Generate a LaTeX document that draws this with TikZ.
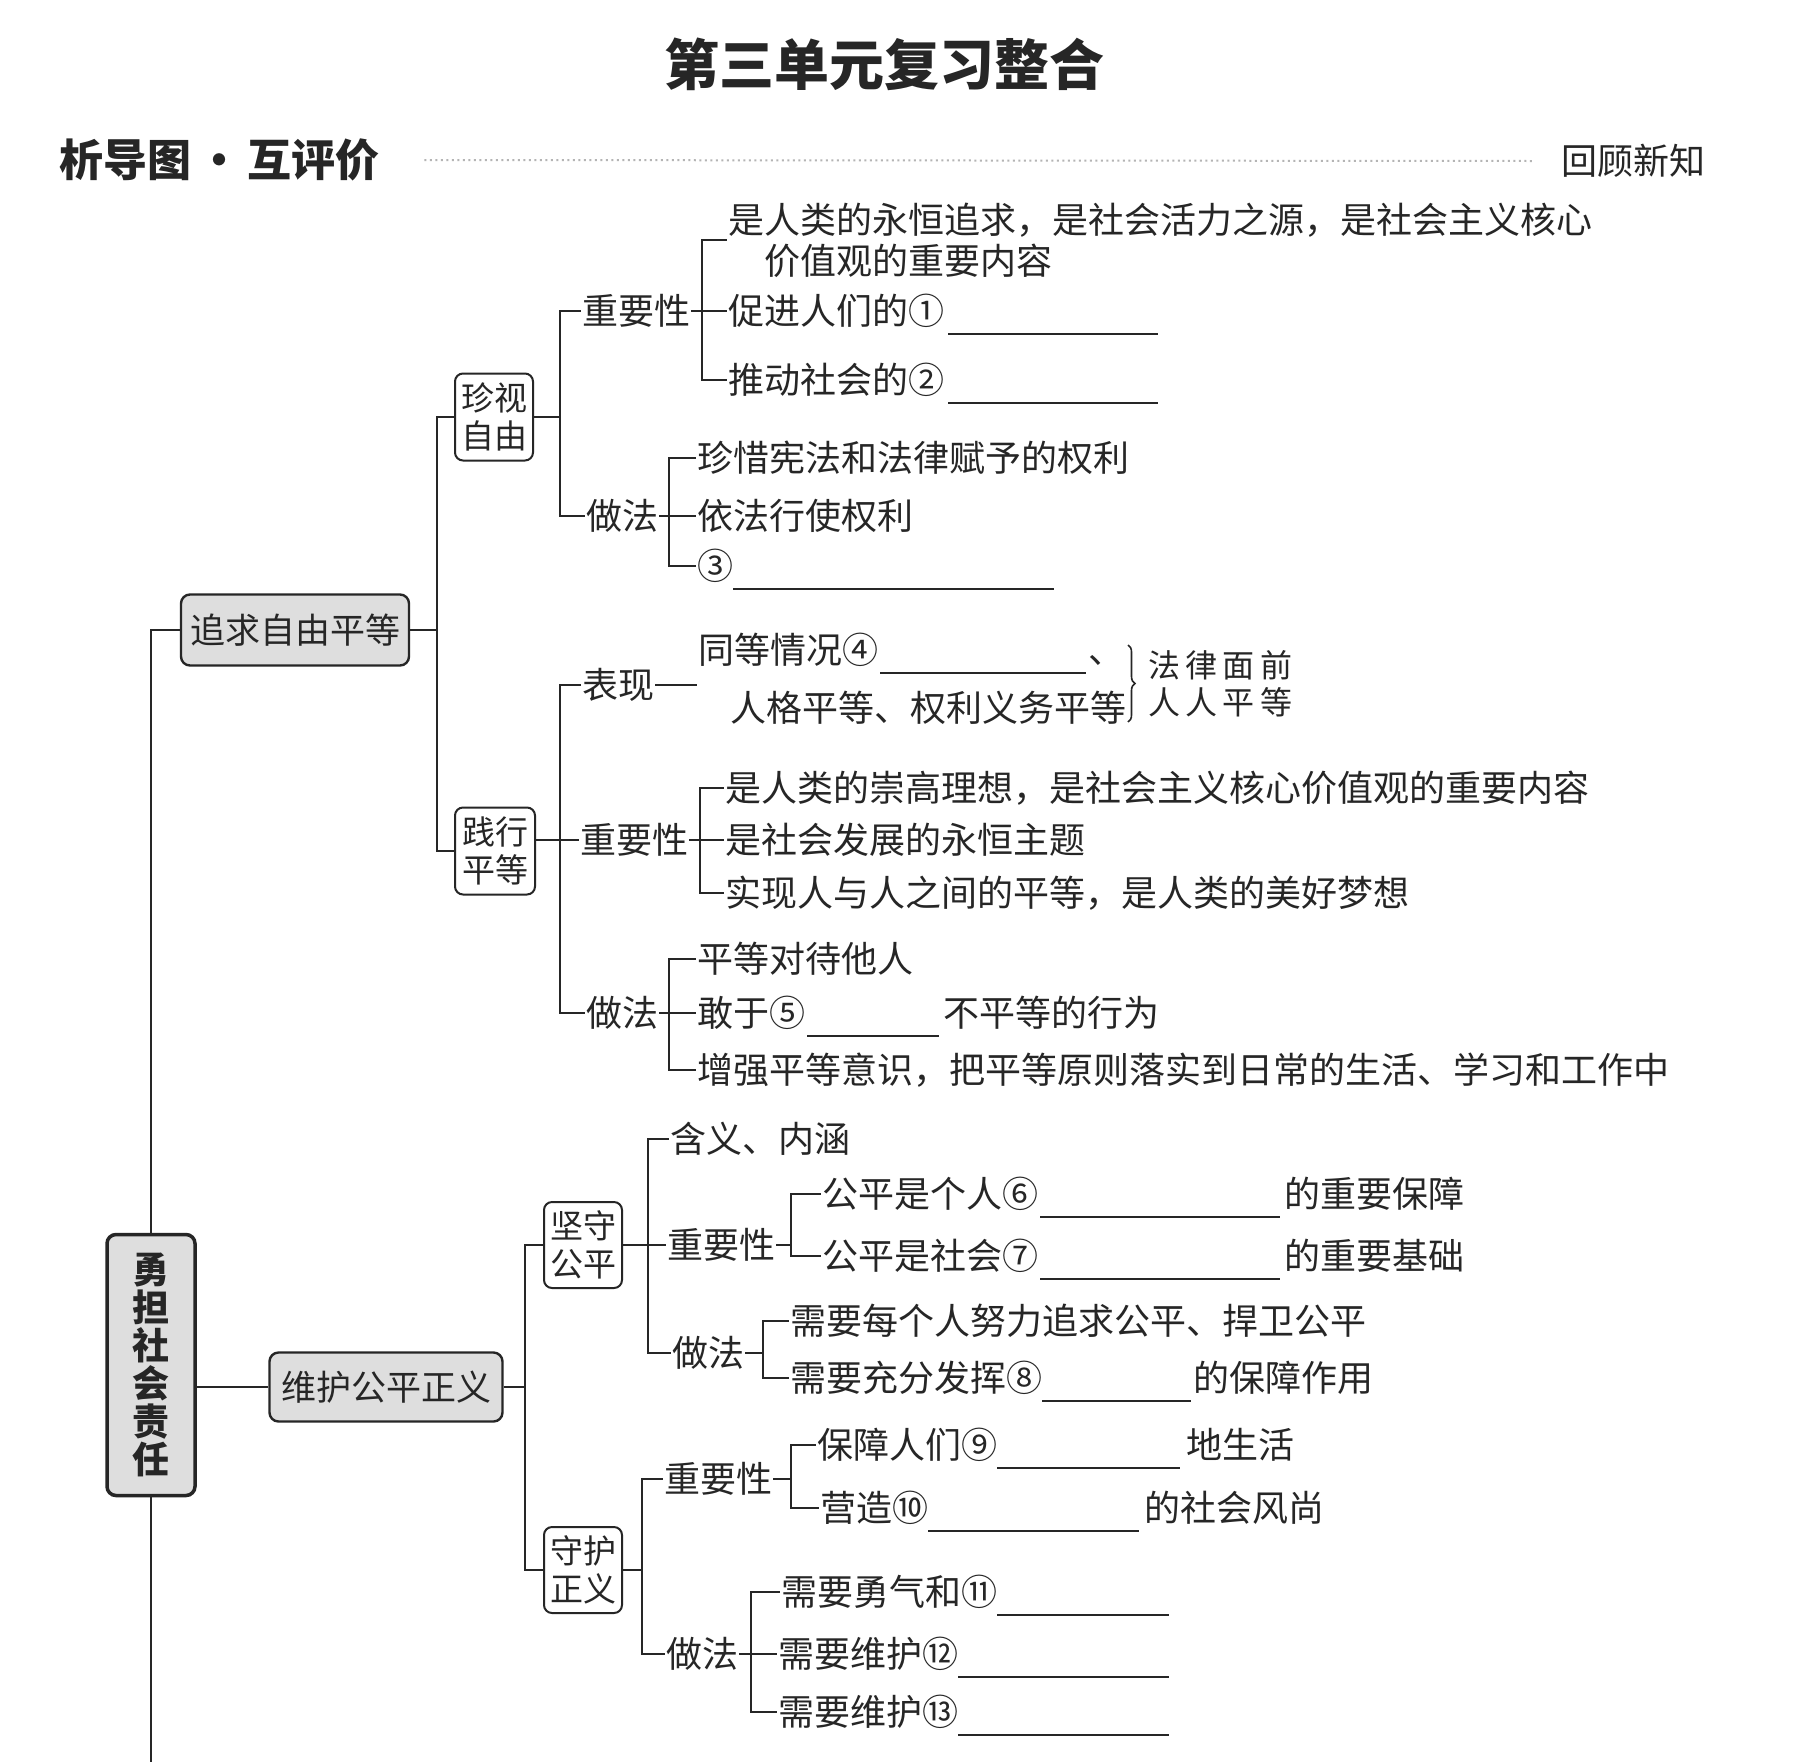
\documentclass[tikz,border=0pt]{standalone}
\usepackage{fontspec}
\setmainfont{Noto Sans CJK SC}
\usetikzlibrary{decorations.pathreplacing}
\definecolor{ink}{HTML}{262626}
\definecolor{boxgray}{HTML}{DEDEDE}
\definecolor{dotgray}{HTML}{B4B4B4}
\newcommand\blank[1]{\smash{\rule[-10pt]{#1pt}{1.6pt}}}
\begin{document}
\begin{tikzpicture}[x=1pt,y=-1pt,
  every node/.style={text=ink},
  txt/.style={anchor=west, inner sep=1pt, font=\fontsize{36pt}{41pt}\selectfont},
  conn/.style={draw=ink, line width=1.8pt},
  gbox/.style={draw=ink, line width=2.4pt, rounded corners=9pt, fill=boxgray, inner sep=0pt, font=\fontsize{35pt}{40pt}\selectfont},
  wbox/.style={draw=ink, line width=2pt, rounded corners=8pt, fill=white, inner sep=0pt, align=center, minimum width=78pt, minimum height=87pt, font=\fontsize{33pt}{38pt}\selectfont},
]
\fill[white] (0,0) rectangle (1798,1762);
\useasboundingbox (0,0) rectangle (1798,1762);

% header
\node[font=\bfseries\fontsize{55pt}{58pt}\selectfont] (title) at (884,64) {第三单元复习整合};
\node[anchor=west, inner sep=1pt, font=\bfseries\fontsize{44pt}{46pt}\selectfont] (hd) at (58,160) {析导图\hspace{6pt}·\hspace{6pt}互评价};
\node[anchor=west, inner sep=1pt, font=\fontsize{36pt}{38pt}\selectfont] (rg) at (1560,161) {回顾新知};
\draw[dotgray, line width=2pt, dash pattern=on 2pt off 3.5pt] ([xshift=44pt]hd.east) -- ([xshift=-28pt]rg.west);

% main boxes
\node[gbox, line width=3.5pt, align=center, minimum width=88pt, minimum height=261pt, font=\bfseries\fontsize{37pt}{38pt}\selectfont] (root) at (151,1365) {勇\\担\\社\\会\\责\\任};
\node[gbox, minimum width=228pt, minimum height=71pt] (zq) at (295,630) {追求自由平等};
\node[gbox, minimum width=233pt, minimum height=69pt] (wh) at (386,1387) {维护公平正义};
\coordinate (bot) at (151,1762);
\draw[conn] (root.north) |- (zq.west);
\draw[conn] (root.south) -- (bot);
\draw[conn] (root.east |- wh.west) -- (wh.west);

% second-level boxes
\node[wbox] (zs) at (494,417) {珍视\\自由};
\node[wbox, minimum width=80pt] (jx) at (495,851) {践行\\平等};
\node[wbox, minimum height=86pt] (js) at (583,1245) {坚守\\公平};
\node[wbox, minimum height=86pt] (jh) at (583,1570) {守护\\正义};

\coordinate (J1) at (437,630);
\draw[conn] (zq.east) -- (J1);
\draw[conn] (J1) |- (zs.west);
\draw[conn] (J1) |- (jx.west);

% ---------- 珍视自由 ----------
\node[txt] (zy1) at (581,311) {重要性};
\node[txt] (zf1) at (585,516) {做法};
\coordinate (J2) at (560,417);
\draw[conn] (zs.east) -- (J2);
\draw[conn] (J2) |- (zy1.west);
\draw[conn] (J2) |- (zf1.west);

\node[txt, align=left] (a1) at (727,240) {是人类的永恒追求，是社会活力之源，是社会主义核心\\\hspace*{1em}价值观的重要内容};
\node[txt] (a2) at (727,311) {促进人们的①\hspace{4pt}\blank{210}};
\node[txt] (a3) at (727,380) {推动社会的②\hspace{4pt}\blank{210}};
\coordinate (J3) at (702,311);
\draw[conn] (zy1.east) -- (J3);
\draw[conn] (J3) |- (a1.west);
\draw[conn] (J3) |- (a2.west);
\draw[conn] (J3) |- (a3.west);

\node[txt] (b1) at (696,458) {珍惜宪法和法律赋予的权利};
\node[txt] (b2) at (696,516) {依法行使权利};
\node[txt] (b3) at (696,566) {③\blank{321}};
\coordinate (J4) at (669,516);
\draw[conn] (zf1.east) -- (J4);
\draw[conn] (J4) |- (b1.west);
\draw[conn] (J4) |- (b2.west);
\draw[conn] (J4) |- (b3.west);

% ---------- 践行平等 ----------
\node[txt] (bx) at (581,685) {表现};
\node[txt] (jy2) at (579,840) {重要性};
\node[txt] (jf2) at (585,1013) {做法};
\coordinate (J6) at (560,840);
\draw[conn] (jx.east |- J6) -- (J6);
\draw[conn] (J6) |- (bx.west);
\draw[conn] (J6) |- (jy2.west);
\draw[conn] (J6) |- (jf2.west);

\node[txt] (t4a) at (697,650) {同等情况④\hspace{2pt}\blank{206}\hspace{2pt}、};
\node[txt] (t4b) at (729,708) {人格平等、权利义务平等};
\draw[conn] (bx.east) -- (bx.east -| t4a.west);
\coordinate (brA) at (1128,645);
\coordinate (brB) at (1128,722);
\draw[conn, line width=1.6pt, decorate, decoration={brace, amplitude=7pt}] (brA) -- (brB);
\node[anchor=west, inner sep=1pt, align=left, font=\fontsize{32pt}{37pt}\selectfont] (lr) at (1147,684) {法\,律\,面\,前\\人\,人\,平\,等};

\node[txt] (d1) at (724,788) {是人类的崇高理想，是社会主义核心价值观的重要内容};
\node[txt] (d2) at (724,840) {是社会发展的永恒主题};
\node[txt] (d3) at (724,893) {实现人与人之间的平等，是人类的美好梦想};
\coordinate (J5) at (700,840);
\draw[conn] (jy2.east) -- (J5);
\draw[conn] (J5) |- (d1.west);
\draw[conn] (J5) |- (d2.west);
\draw[conn] (J5) |- (d3.west);

\node[txt] (e1) at (696,959) {平等对待他人};
\node[txt] (e2) at (696,1013) {敢于⑤\hspace{2pt}\blank{132}\hspace{4pt}不平等的行为};
\node[txt] (e3) at (696,1070) {增强平等意识，把平等原则落实到日常的生活、学习和工作中};
\coordinate (J7) at (669,1013);
\draw[conn] (jf2.east) -- (J7);
\draw[conn] (J7) |- (e1.west);
\draw[conn] (J7) |- (e2.west);
\draw[conn] (J7) |- (e3.west);

% ---------- 维护公平正义 ----------
\coordinate (J8) at (525,1387);
\draw[conn] (wh.east) -- (J8);
\draw[conn] (J8) |- (js.west);
\draw[conn] (J8) |- (jh.west);

% 坚守公平
\node[txt] (hy) at (669,1139) {含义、内涵};
\node[txt] (zy3) at (666,1245) {重要性};
\node[txt] (zf3) at (671,1353) {做法};
\coordinate (J9) at (648,1245);
\draw[conn] (js.east) -- (J9);
\draw[conn] (J9) |- (hy.west);
\draw[conn] (J9) |- (zy3.west);
\draw[conn] (J9) |- (zf3.west);

\node[txt] (f1) at (821,1194) {公平是个人⑥\hspace{2pt}\blank{240}\hspace{4pt}的重要保障};
\node[txt] (f2) at (821,1256) {公平是社会⑦\hspace{2pt}\blank{240}\hspace{4pt}的重要基础};
\coordinate (J10) at (791,1245);
\draw[conn] (zy3.east) -- (J10);
\draw[conn] (J10) |- (f1.west);
\draw[conn] (J10) |- (f2.west);

\node[txt] (g1) at (789,1321) {需要每个人努力追求公平、捍卫公平};
\node[txt] (g2) at (789,1378) {需要充分发挥⑧\blank{149}\hspace{2pt}的保障作用};
\coordinate (J11) at (763,1353);
\draw[conn] (zf3.east) -- (J11);
\draw[conn] (J11) |- (g1.west);
\draw[conn] (J11) |- (g2.west);

% 守护正义
\node[txt] (zy4) at (663,1479) {重要性};
\node[txt] (zf4) at (665,1654) {做法};
\coordinate (J12) at (642,1570);
\draw[conn] (jh.east) -- (J12);
\draw[conn] (J12) |- (zy4.west);
\draw[conn] (J12) |- (zf4.west);

\node[txt] (h1) at (816,1445) {保障人们⑨\blank{183}\hspace{6pt}地生活};
\node[txt] (h2) at (819,1508) {营造⑩\blank{211}\hspace{5pt}的社会风尚};
\coordinate (J13) at (791,1479);
\draw[conn] (zy4.east) -- (J13);
\draw[conn] (J13) |- (h1.west);
\draw[conn] (J13) |- (h2.west);

\node[txt] (k1) at (780,1592) {需要勇气和⑪\blank{172}};
\node[txt] (k2) at (777,1654) {需要维护⑫\blank{211}};
\node[txt] (k3) at (777,1712) {需要维护⑬\blank{211}};
\coordinate (J14) at (751,1654);
\draw[conn] (zf4.east) -- (J14);
\draw[conn] (J14) |- (k1.west);
\draw[conn] (J14) |- (k2.west);
\draw[conn] (J14) |- (k3.west);
\end{tikzpicture}
\end{document}
